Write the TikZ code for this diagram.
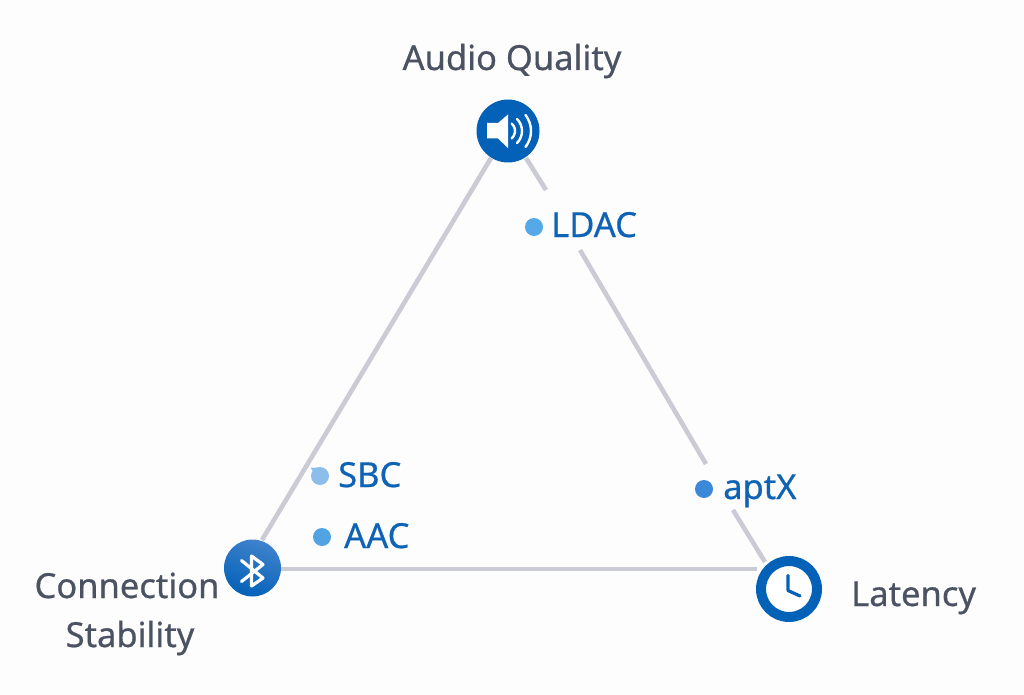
\documentclass[tikz,border=0pt]{standalone}
\usepackage{fontspec}
\setmainfont{Noto Sans}[FakeBold=0.5]
\newfontfamily\labelfont{Noto Sans}[RawFeature={embolden=0.6}]
\definecolor{pagebg}{HTML}{FDFDFE}
\definecolor{edgegray}{HTML}{CACBD5}
\definecolor{brand}{HTML}{0461B8}
\definecolor{brandlight}{HTML}{3F82CC}
\definecolor{codec}{HTML}{0F63B4}
\definecolor{axis}{HTML}{4B5261}
\definecolor{dotsbc}{HTML}{8DBDEB}
\definecolor{dotaac}{HTML}{52A3E3}
\definecolor{dotldac}{HTML}{55A9E8}
\definecolor{dotaptx}{HTML}{3B88D8}
\tikzset{
  edge/.style={draw=edgegray,line width=4.6pt},
  axislabel/.style={text=axis,font=\labelfont\fontsize{34.5}{42}\selectfont,inner sep=0pt,align=center},
  codeclabel/.style={text=codec,font=\labelfont\fontsize{34.5}{40}\selectfont,inner sep=0pt,anchor=base west},
  codecdot/.style={circle,minimum size=18pt,inner sep=0pt},
  glyph/.style={draw=white,line width=3pt,line cap=round,line join=round},
}
\begin{document}
\begin{tikzpicture}[x=1pt,y=-1pt]
\useasboundingbox[fill=pagebg] (0,0) rectangle (1024,695);
% corner nodes
\node[circle,fill=brand,minimum size=63pt,inner sep=0pt] (quality) at (508,131) {};
\node[circle,minimum size=57pt,inner sep=0pt,top color=brandlight,bottom color=brand,shading angle=-20] (stability) at (252.5,568) {};
\node[circle,draw=brand,fill=white,line width=10pt,minimum size=56pt,inner sep=0pt] (latency) at (789,589) {};
% edge break points
\coordinate (qa) at (526,158);
\coordinate (qb) at (546,190);
\coordinate (ma) at (580,250);
\coordinate (mb) at (706,464);
\coordinate (la) at (733,510);
\coordinate (lb) at (765,562);
\coordinate (qs) at (491,158);
\coordinate (sq) at (262,540);
\coordinate (st) at (281,569);
\coordinate (ts) at (757,569);
\draw[edge] (qs) -- (sq);
\draw[edge] (st) -- (ts);
\draw[edge] (qa) -- (qb);
\draw[edge] (ma) -- (mb);
\draw[edge] (la) -- (lb);
% speaker
\fill[white] (487,123) -- (498,123) -- (508,114.5) -- (508,148) -- (498,138.5) -- (487,138.5) -- cycle;
\draw[glyph,line width=2.4pt] (505,131)+(-48:10) arc[start angle=-48,end angle=48,radius=10];
\draw[glyph,line width=2.4pt] (505,131)+(-45:17) arc[start angle=-45,end angle=45,radius=17];
\draw[glyph,line width=2.4pt] (505,131)+(-38:26) arc[start angle=-38,end angle=38,radius=26];
% bluetooth
\draw[glyph,line width=3.2pt] (241.5,560.5) -- (263,578) -- (251.5,586) -- (251.5,556) -- (263,564.5) -- (241.5,581.5);
% clock
\draw[brand,line width=3.2pt,line cap=round,line join=round] (788,575.5) -- (788,590.5) -- (800,596);
% codec dots
\fill[dotsbc] (310.5,467.5) -- (318,467.5) -- (314,473) -- cycle;
\node[codecdot,fill=dotsbc] (sbcdot) at (320,476) {};
\node[codecdot,fill=dotaac] (aacdot) at (322,537) {};
\node[codecdot,fill=dotldac] (ldacdot) at (534,227) {};
\node[codecdot,fill=dotaptx] (aptxdot) at (704,489) {};
% labels
\node[codeclabel] (ldac) at (551,237) {LDAC};
\node[codeclabel] (sbc) at (338,487) {SBC};
\node[codeclabel] (aac) at (344,548) {AAC};
\node[codeclabel] (aptx) at (723,499) {aptX};
\node[axislabel,anchor=base] (aq) at (512,70) {Audio Quality};
\node[axislabel,anchor=base] (cs1) at (127,598) {Connection};
\node[axislabel,anchor=base] (cs2) at (130,647) {Stability};
\node[axislabel,anchor=base west] (lat) at (851,606) {Latency};
\end{tikzpicture}
\end{document}
